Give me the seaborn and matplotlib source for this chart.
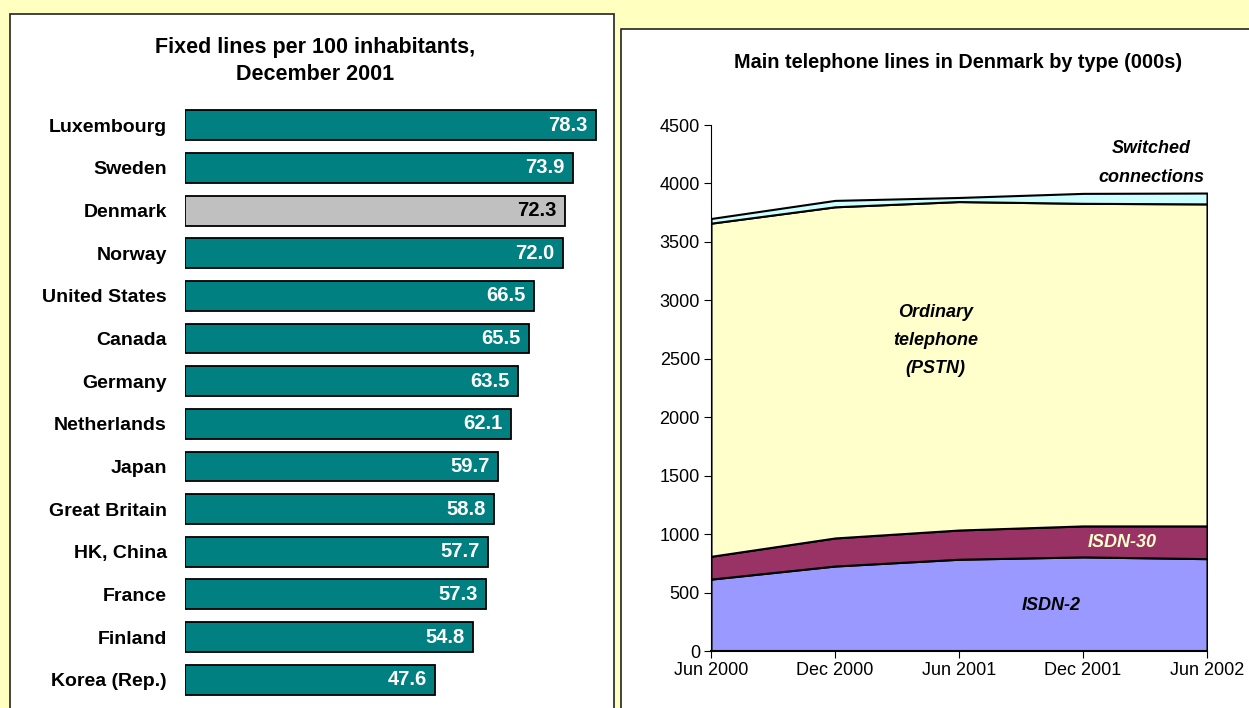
import numpy as np
import pandas as pd
import matplotlib
matplotlib.use("Agg")
import matplotlib.pyplot as plt
from matplotlib.patches import Rectangle
import seaborn as sns

# Left chart: fixed lines per 100 inhabitants, Dec 2001
countries = ["Luxembourg", "Sweden", "Denmark", "Norway", "United States", "Canada",
             "Germany", "Netherlands", "Japan", "Great Britain", "HK, China",
             "France", "Finland", "Korea (Rep.)"]
lines_per_100 = [78.3, 73.9, 72.3, 72.0, 66.5, 65.5, 63.5, 62.1, 59.7, 58.8,
                 57.7, 57.3, 54.8, 47.6]
highlight = "Denmark"

# Right chart: main telephone lines in Denmark by type (000s)
periods = ["Jun 2000", "Dec 2000", "Jun 2001", "Dec 2001", "Jun 2002"]
isdn2 = [615, 727, 785, 805, 790]
isdn30 = [195, 240, 250, 265, 280]
pstn = [2850, 2833, 2810, 2760, 2755]
switched = [40, 55, 35, 85, 93]

sns.set_style("white")
plt.rcParams["font.family"] = ["Liberation Sans", "DejaVu Sans"]
plt.rcParams["text.color"] = "black"
plt.rcParams["xtick.color"] = "black"
plt.rcParams["ytick.color"] = "black"

W, H = 1249, 708
fig = plt.figure(figsize=(W / 100, H / 100), dpi=100)
fig.patch.set_facecolor("#FFFFC0")

def fx(px):
    return px / W

def fy(py):
    return 1 - py / H

# white panels, drawn in a background axes
bg = fig.add_axes([0, 0, 1, 1], zorder=-5)
bg.set_xlim(0, W)
bg.set_ylim(H, 0)
bg.axis("off")
bg.add_patch(Rectangle((10, 14), 604, 720, facecolor="white",
                       edgecolor="#222222", linewidth=1.2))
bg.add_patch(Rectangle((621, 29), 700, 720, facecolor="white",
                       edgecolor="#222222", linewidth=1.2))

# ---- left bar chart
ax1 = fig.add_axes([fx(185), fy(701), fx(605 - 185), fy(104) - fy(701)])
ax1.set_facecolor("none")
df = pd.DataFrame({"country": countries, "value": lines_per_100})
pal = {c: ("#C0C0C0" if c == highlight else "#008080") for c in countries}
sns.barplot(data=df, x="value", y="country", hue="country", palette=pal,
            legend=False, orient="h", width=0.7, saturation=1,
            edgecolor="black", linewidth=1.3, ax=ax1)
ax1.set_xlim(0, 80)
ax1.set_ylim(len(countries) - 0.5, -0.5)
ax1.set_xlabel("")
ax1.set_ylabel("")
ax1.set_xticks([])
for s in ax1.spines.values():
    s.set_visible(False)
ax1.tick_params(axis="y", length=0, pad=13)
for lab in ax1.get_yticklabels():
    lab.set_fontweight("bold")
    lab.set_fontsize(14)
    lab.set_color("black")
for i, (c, v) in enumerate(zip(countries, lines_per_100)):
    ax1.text(v - 1.6, i, f"{v:.1f}", color="black" if c == highlight else "white",
             fontweight="bold", fontsize=14.5, ha="right", va="center")
fig.text(fx(315), fy(48), "Fixed lines per 100 inhabitants,", ha="center",
         va="center", fontsize=15.5, fontweight="bold")
fig.text(fx(315), fy(74), "December 2001", ha="center", va="center",
         fontsize=15.5, fontweight="bold")

# ---- right stacked area chart
ax2 = fig.add_axes([fx(711), fy(651), fx(1207 - 711), fy(125) - fy(651)])
ax2.set_facecolor("none")
x = np.arange(len(periods))
ax2.stackplot(x, isdn2, isdn30, pstn, switched,
              colors=["#9999FF", "#993366", "#FFFFCC", "#CCFFFF"],
              edgecolor="black", linewidth=1.5)
ax2.set_xlim(0, len(periods) - 1)
ax2.set_ylim(0, 4500)
ax2.set_yticks(range(0, 4501, 500))
ax2.set_xticks(x)
ax2.set_xticklabels(periods)
sns.despine(ax=ax2)
for side in ["left", "bottom"]:
    ax2.spines[side].set_color("black")
ax2.spines["left"].set_linewidth(0.8)
ax2.spines["bottom"].set_linewidth(1.5)
ax2.tick_params(axis="both", direction="out", length=5, width=0.8,
                labelsize=13, color="black", bottom=True, left=True)
ax2.tick_params(axis="x", pad=3)
ax2.tick_params(axis="y", pad=3)
fig.text(fx(958), fy(62), "Main telephone lines in Denmark by type (000s)",
         ha="center", va="center", fontsize=14.3, fontweight="bold")

ax2.text(3.55, 4175, "Switched\nconnections", ha="center", va="center",
         fontsize=13, fontweight="bold", style="italic", linespacing=1.85)
ax2.text(1.81, 2660, "Ordinary\ntelephone\n(PSTN)", ha="center", va="center",
         fontsize=13, fontweight="bold", style="italic", linespacing=1.85)
ax2.text(3.32, 932, "ISDN-30", ha="center", va="center", color="#FFFFCC",
         fontsize=13, fontweight="bold", style="italic")
ax2.text(2.74, 393, "ISDN-2", ha="center", va="center",
         fontsize=13, fontweight="bold", style="italic")

fig.savefig("out.png", dpi=100, facecolor=fig.get_facecolor())
